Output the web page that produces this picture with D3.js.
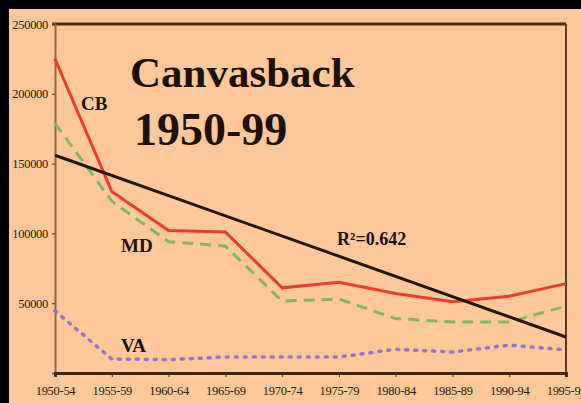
<!DOCTYPE html>
<html>
<head>
<meta charset="utf-8">
<script src="https://cdn.jsdelivr.net/npm/d3@7"></script>
<style>
  body { margin: 0; background: #000; }
  svg { display: block; }
  .tick-label { font-family: "Liberation Serif", serif; font-size: 12.5px; fill: #2a1808; letter-spacing: -0.3px; }
</style>
</head>
<body>
<div id="root"></div>
<script>
var periods = ["1950-54", "1955-59", "1960-64", "1965-69", "1970-74", "1975-79", "1980-84", "1985-89", "1990-94", "1995-99"];
var cbValues = [225000, 130000, 102000, 101000, 61000, 65000, 57000, 51000, 55000, 64000];
var mdValues = [179000, 123000, 94000, 91000, 51500, 53000, 39000, 36500, 36500, 48000];
var vaValues = [44500, 10000, 9500, 11500, 11500, 11500, 17000, 15000, 20000, 16500];
var trendValues = [156000, 25800]; // first and last period
var yTicks = [50000, 100000, 150000, 200000, 250000];

var w = 581;
var h = 403;
var margin = { top: 24, right: 15, bottom: 30, left: 55 };

var svg = d3.select("#root").append("svg").attr("width", w).attr("height", h);
// black border + peach panel
svg.append("rect").attr("width", w).attr("height", h).attr("fill", "#000");
svg.append("rect").attr("x", 9).attr("y", 9).attr("width", w - 9).attr("height", h - 9).attr("fill", "#fdc99b");

var xScale = d3.scalePoint().domain(periods).range([margin.left, w - margin.right]);
var yScale = d3.scaleLinear().domain([0, 250000]).range([h - margin.bottom, margin.top]);

// frame: top + right
svg.append("line").attr("x1", margin.left - 3).attr("x2", w - margin.right).attr("y1", yScale(250000)).attr("y2", yScale(250000))
  .attr("stroke", "#4a2e18").attr("stroke-width", 3);
svg.append("line").attr("x1", w - margin.right).attr("x2", w - margin.right).attr("y1", yScale(250000)).attr("y2", yScale(0))
  .attr("stroke", "#5a3a22").attr("stroke-width", 2);

// y axis
var yAxis = d3.axisLeft(yScale).tickValues(yTicks).tickSize(3).tickPadding(4).tickFormat(d3.format("d"));
var gy = svg.append("g").attr("transform", "translate(" + margin.left + ",0)").call(yAxis);
gy.select(".domain").attr("stroke", "#8a6a4e").attr("stroke-width", 2);
gy.selectAll(".tick line").attr("stroke", "#4a2e18");
gy.selectAll("text").attr("class", "tick-label").attr("fill", null);

// x axis
var xAxis = d3.axisBottom(xScale).tickSize(4).tickPadding(9);
var gx = svg.append("g").attr("transform", "translate(0," + yScale(0) + ")").call(xAxis);
gx.select(".domain").attr("stroke", "#3e2612").attr("stroke-width", 3);
gx.selectAll(".tick line").attr("stroke", "#4a2e18");
gx.selectAll("text").attr("class", "tick-label").attr("fill", null);

var line = d3.line().x(function(d, i) { return xScale(periods[i]); }).y(function(d) { return yScale(d); });

// VA dotted
svg.append("path").datum(vaValues).attr("d", line).attr("fill", "none")
  .attr("stroke", "#9476cc").attr("stroke-width", 3.5).attr("stroke-dasharray", "2,7").attr("stroke-linecap", "round");
// MD dashed
svg.append("path").datum(mdValues).attr("d", line).attr("fill", "none")
  .attr("stroke", "#86b464").attr("stroke-width", 3).attr("stroke-dasharray", "11,7");
// CB solid
svg.append("path").datum(cbValues).attr("d", line).attr("fill", "none")
  .attr("stroke", "#ec3d2a").attr("stroke-width", 3);
// trend line
svg.append("line")
  .attr("x1", xScale(periods[0])).attr("y1", yScale(trendValues[0]))
  .attr("x2", xScale(periods[periods.length - 1])).attr("y2", yScale(trendValues[1]))
  .attr("stroke", "#24160c").attr("stroke-width", 3);

// labels
function label(x, y, size, txt) {
  return svg.append("text").attr("x", x).attr("y", y).style("font-family", "'Liberation Serif', serif")
    .style("font-weight", "bold").style("font-size", size + "px").attr("fill", "#1c1008").text(txt);
}
label(130, 87, 43, "Canvasback");
label(134, 145, 46, "1950-99");
label(81, 110, 19, "CB");
label(121, 252, 19, "MD");
label(121, 352, 19, "VA");
label(337, 245, 18, "R²=0.642");
</script>
</body>
</html>
